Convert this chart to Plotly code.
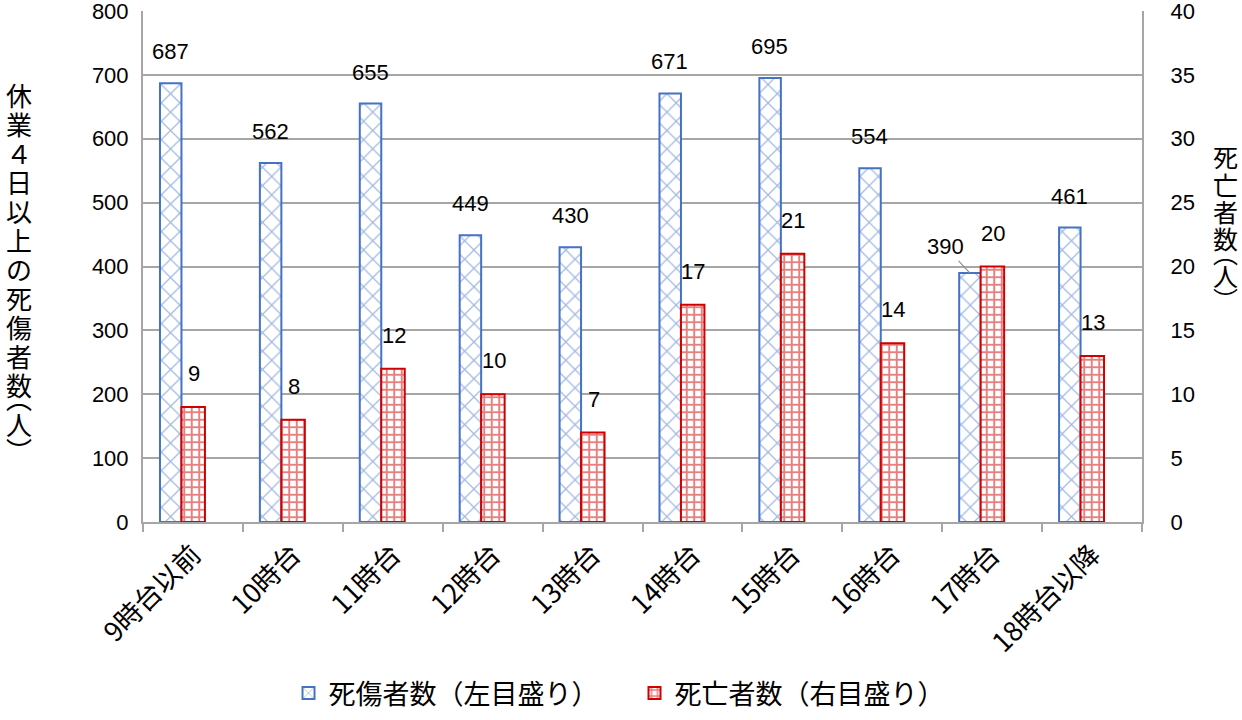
import plotly.graph_objects as go

categories = ["9時台以前", "10時台", "11時台", "12時台", "13時台", "14時台", "15時台", "16時台", "17時台", "18時台以降"]
casualties = [687, 562, 655, 449, 430, 671, 695, 554, 390, 461]
deaths = [9, 8, 12, 10, 7, 17, 21, 14, 20, 13]
left_ticks = [0, 100, 200, 300, 400, 500, 600, 700, 800]
right_ticks = [0, 5, 10, 15, 20, 25, 30, 35, 40]
left_title_chars = ["休", "業", "４", "日", "以", "上", "の", "死", "傷", "者", "数", "︵", "人", "︶"]
right_title_chars = ["死", "亡", "者", "数", "︵", "人", "︶"]

BLUE = "#4472c4"
RED = "#d00000"
GRID = "#a6a6a6"
NUMFONT = "Liberation Sans, Arial, Noto Sans CJK JP"
JPFONT = "Noto Sans CJK JP, Liberation Sans"

ML, MR, MT, MB = 143, 100, 11, 198
W, H = 1242, 720
pw = W - ML - MR
ph = H - MT - MB


def px_to_paper(xp, yp):
    return (xp - ML) / pw, (H - MB - yp) / ph


fig = go.Figure()
fig.add_trace(go.Bar(
    x=categories, y=casualties, name="死傷者数（左目盛り）",
    width=0.215, offset=-0.33,
    marker=dict(color="white", line=dict(color=BLUE, width=2),
                pattern=dict(shape="x", fgcolor=BLUE, bgcolor="white", size=13, solidity=0.18)),
    yaxis="y",
))
fig.add_trace(go.Bar(
    x=categories, y=deaths, name="死亡者数（右目盛り）",
    width=0.235, offset=-0.115,
    marker=dict(color="white", line=dict(color=RED, width=2),
                pattern=dict(shape="+", fgcolor=RED, bgcolor="white", size=7.5, solidity=0.45)),
    yaxis="y2",
))

annotations = []
for i, v in enumerate(casualties):
    if categories[i] == "17時台":
        annotations.append(dict(x=i - 0.225, y=v, xref="x", yref="y", text=str(v),
                                showarrow=True, arrowhead=0, arrowwidth=1.2, arrowcolor="#909090",
                                ax=-24, ay=-26, font=dict(size=22, family=NUMFONT, color="black")))
    else:
        annotations.append(dict(x=i - 0.225, y=v, xref="x", yref="y", text=str(v),
                                showarrow=False, yanchor="bottom", yshift=17,
                                font=dict(size=22, family=NUMFONT, color="black")))
for i, v in enumerate(deaths):
    annotations.append(dict(x=i + 0.01, y=v, xref="x", yref="y2", text=str(v),
                            showarrow=False, yanchor="bottom", yshift=19,
                            font=dict(size=22, family=NUMFONT, color="black")))

# vertical axis titles, one character per annotation
left_y = [94, 123, 152, 181, 210, 239, 268, 297, 326, 355, 384, 397, 423, 449]
for ch, yp in zip(left_title_chars, left_y):
    xx, yy = px_to_paper(19, yp)
    annotations.append(dict(x=xx, y=yy, xref="paper", yref="paper", text=ch, showarrow=False,
                            xanchor="center", yanchor="middle",
                            font=dict(family=JPFONT, size=26, color="black")))
right_y = [156, 184, 211, 238, 252, 275, 299]
for ch, yp in zip(right_title_chars, right_y):
    xx, yy = px_to_paper(1225, yp)
    annotations.append(dict(x=xx, y=yy, xref="paper", yref="paper", text=ch, showarrow=False,
                            xanchor="center", yanchor="middle",
                            font=dict(family=JPFONT, size=25, color="black")))

fig.update_layout(
    width=W, height=H,
    margin=dict(l=ML, r=MR, t=MT, b=MB, autoexpand=False),
    paper_bgcolor="white", plot_bgcolor="white",
    barmode="overlay",
    font=dict(family=NUMFONT, size=22, color="black"),
    xaxis=dict(type="category", tickangle=-45, showline=True, linecolor=GRID, linewidth=2,
               ticks="outside", tickson="boundaries", ticklen=8, tickcolor=GRID, tickwidth=2,
               tickfont=dict(family=JPFONT, size=27), showgrid=False, mirror=False,
               range=[-0.5, 9.5], ticklabelstandoff=4),
    yaxis=dict(range=[0, 800], tickvals=left_ticks, showgrid=True, gridcolor=GRID, gridwidth=2,
               showline=True, linecolor=GRID, linewidth=2, ticks="", zeroline=False,
               tickfont=dict(size=22), ticklabelstandoff=8, ticklabeloverflow="allow"),
    yaxis2=dict(range=[0, 40], tickvals=right_ticks, overlaying="y", side="right", showgrid=False,
                showline=True, linecolor=GRID, linewidth=2, ticks="", zeroline=False,
                tickfont=dict(size=22), ticklabelstandoff=22, ticklabeloverflow="allow"),
    legend=dict(orientation="h", x=0.492, xanchor="center", y=-0.3836, yanchor="bottom",
                font=dict(family=JPFONT, size=27), itemwidth=30, entrywidth=301,
                bgcolor="rgba(0,0,0,0)"),
    annotations=annotations,
)

fig.write_html("out.html")
